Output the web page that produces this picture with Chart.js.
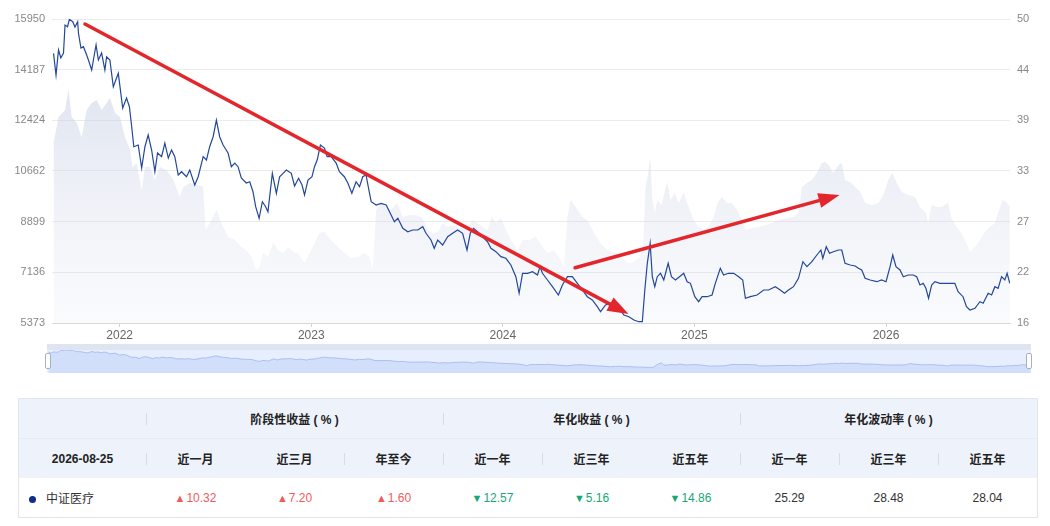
<!DOCTYPE html>
<html>
<head>
<meta charset="utf-8">
<script src="https://cdn.jsdelivr.net/npm/chart.js@4.4.1/dist/chart.umd.min.js"></script>
<style>
    body { margin: 0; background: #fff; width: 1050px; height: 526px; overflow: hidden;
           font-family: "Liberation Sans", Arial, "Noto Sans CJK SC", sans-serif; }
    #mainChart { position: absolute; left: 0; top: 0; }
    #zoomWrap { position: absolute; left: 47px; top: 344px; width: 984px; height: 29px;
                background: linear-gradient(#dfe5f0 0, #dfe5f0 6px, #e7eefd 6px, #e7eefd 100%); }
    #zoomChart { position: absolute; left: 0; top: 0; }
    .handle { position: absolute; top: 353px; width: 4px; height: 14px; background: #fff;
              border: 1px solid #a7b0c0; border-radius: 2px; }
    #tbl { position: absolute; left: 18px; top: 398px; width: 1020px; border: 1px solid #e1e5ec;
           box-sizing: border-box; }
    #tbl table { border-collapse: collapse; width: 100%; table-layout: fixed; }
    #tbl td { height: 39px; padding: 0; text-align: center; font-size: 12px; color: #222; position: relative; }
    #tbl tr.head td { background: #eef3fb; font-weight: bold; }
    #tbl tr.head.first td { border-bottom: 1px solid #e6ebf3; }
    #tbl td.sep::before { content: ''; position: absolute; left: 0; top: 50%; height: 12px; margin-top: -6px;
                          border-left: 1px solid #d6dce6; }
    #tbl td.name { text-align: left; padding-left: 10px; color: #333; }
    .dot { display: inline-block; width: 7px; height: 7px; border-radius: 50%; background: #0c2d8c;
           margin-right: 10px; vertical-align: 0; }
    #tbl td.up { color: #f05a5e; }
    #tbl td.down { color: #18a77a; }
    #tbl td.plain { color: #333; }
    .tri { font-size: 11px; margin-right: 1px; }
</style>
</head>
<body>
<canvas id="mainChart" width="1050" height="345"></canvas>
<div id="zoomWrap"><canvas id="zoomChart" width="984" height="29"></canvas></div>
<div class="handle" style="left:45px"></div>
<div class="handle" style="left:1026px"></div>
<div id="tbl"></div>

<script>
// index level (left axis)
const lineYears = [
    2021.655, 2021.668, 2021.681, 2021.693, 2021.707, 2021.715, 2021.728, 2021.738, 2021.755, 2021.767,
    2021.781, 2021.785, 2021.798, 2021.811, 2021.828, 2021.837, 2021.854, 2021.863, 2021.877, 2021.889,
    2021.906, 2021.923, 2021.932, 2021.949, 2021.967, 2021.993, 2022.016, 2022.036, 2022.051, 2022.063,
    2022.074, 2022.097, 2022.115, 2022.132, 2022.149, 2022.167, 2022.184, 2022.198, 2022.219, 2022.236,
    2022.254, 2022.271, 2022.288, 2022.306, 2022.323, 2022.349, 2022.366, 2022.392, 2022.410, 2022.436,
    2022.453, 2022.470, 2022.488, 2022.505, 2022.522, 2022.540, 2022.566, 2022.583, 2022.601, 2022.618,
    2022.635, 2022.661, 2022.679, 2022.696, 2022.710, 2022.728, 2022.745, 2022.762, 2022.774, 2022.797,
    2022.818, 2022.835, 2022.853, 2022.870, 2022.896, 2022.913, 2022.934, 2022.952, 2022.965, 2022.983,
    2023.004, 2023.017, 2023.031, 2023.048, 2023.069, 2023.083, 2023.104, 2023.130, 2023.147, 2023.173,
    2023.191, 2023.212, 2023.234, 2023.252, 2023.269, 2023.286, 2023.301, 2023.313, 2023.339, 2023.365,
    2023.391, 2023.417, 2023.434, 2023.452, 2023.478, 2023.504, 2023.530, 2023.556, 2023.582, 2023.599,
    2023.625, 2023.642, 2023.660, 2023.686, 2023.712, 2023.738, 2023.764, 2023.790, 2023.813, 2023.830,
    2023.847, 2023.868, 2023.894, 2023.920, 2023.938, 2023.964, 2023.990, 2024.016, 2024.042, 2024.068,
    2024.085, 2024.103, 2024.129, 2024.155, 2024.181, 2024.194, 2024.207, 2024.233, 2024.259, 2024.290,
    2024.311, 2024.337, 2024.363, 2024.389, 2024.415, 2024.441, 2024.467, 2024.493, 2024.510, 2024.536,
    2024.563, 2024.580, 2024.606, 2024.632, 2024.658, 2024.684, 2024.710, 2024.728, 2024.741, 2024.754,
    2024.769, 2024.780, 2024.793, 2024.806, 2024.823, 2024.840, 2024.863, 2024.880, 2024.901, 2024.922,
    2024.944, 2024.962, 2024.979, 2025.002, 2025.022, 2025.040, 2025.066, 2025.092, 2025.109, 2025.135,
    2025.152, 2025.178, 2025.205, 2025.231, 2025.252, 2025.266, 2025.292, 2025.327, 2025.361, 2025.387,
    2025.422, 2025.448, 2025.470, 2025.491, 2025.517, 2025.543, 2025.566, 2025.587, 2025.613, 2025.639,
    2025.660, 2025.670, 2025.688, 2025.705, 2025.725, 2025.752, 2025.769, 2025.786, 2025.813, 2025.839,
    2025.856, 2025.873, 2025.891, 2025.917, 2025.952, 2025.977, 2026.000, 2026.021, 2026.035, 2026.052,
    2026.073, 2026.090, 2026.116, 2026.142, 2026.160, 2026.177, 2026.194, 2026.208, 2026.222, 2026.238,
    2026.255, 2026.281, 2026.307, 2026.333, 2026.359, 2026.376, 2026.402, 2026.420, 2026.438, 2026.464,
    2026.490, 2026.507, 2026.533, 2026.551, 2026.568, 2026.585, 2026.603, 2026.620, 2026.632, 2026.646
];
const lineValues = [
    14756, 14001, 14871, 14592, 14766, 15740, 15681, 15939, 15855, 15671,
    15855, 15462, 14940, 14986, 14697, 14523, 14175, 14523, 15045, 14523,
    14766, 14175, 14638, 14523, 13594, 14060, 12853, 13201, 12898, 12202,
    11506, 11566, 10765, 11506, 11914, 11392, 10637, 11287, 11159, 11635,
    11113, 11392, 11159, 10522, 10637, 10463, 10696, 10174, 10463, 11159,
    11044, 11506, 11854, 12435, 11854, 11566, 11287, 10811, 10939, 10811,
    10418, 10244, 10289, 9941, 9419, 9015, 9593, 9419, 9245, 10581,
    9885, 10463, 10581, 10696, 10581, 10139, 10407, 10174, 9826, 10348,
    10463, 10811, 11044, 11566, 11461, 11159, 11159, 10939, 10637, 10463,
    10244, 9885, 10289, 10115, 10463, 10522, 10000, 9593, 9478, 9537,
    9478, 9130, 8897, 9015, 8668, 8549, 8608, 8608, 8723, 8494,
    8261, 7972, 8261, 8087, 8375, 8494, 8608, 8494, 7913, 8494,
    8668, 8549, 8375, 8201, 7972, 7854, 7680, 7624, 7391, 6984,
    6406, 7102, 7102, 7158, 7043, 7332, 7102, 6869, 6636, 6347,
    6695, 6984, 6984, 6754, 6521, 6288, 6173, 5940, 5766, 5999,
    6058, 5825, 5884, 5651, 5592, 5477, 5418, 5418, 6521, 7450,
    8146, 6984, 6636, 6984, 7102, 6869, 7450, 6984, 6869, 6984,
    7102, 6810, 6754, 6288, 6114, 6288, 6288, 6347, 6754, 7276,
    7043, 7102, 7102, 6984, 6869, 6232, 6288, 6347, 6521, 6521,
    6636, 6521, 6406, 6521, 6636, 6928, 7506, 7332, 7506, 7739,
    7913, 7624, 8027, 7798, 7854, 7913, 7913, 7450, 7391, 7356,
    7276, 7217, 6928, 6869, 6810, 6869, 6810, 7332, 7739, 7332,
    7217, 6984, 7043, 7043, 6984, 6695, 6754, 6580, 6232, 6695,
    6810, 6754, 6754, 6754, 6754, 6462, 6288, 5940, 5825, 5884,
    6114, 6058, 6406, 6347, 6636, 6580, 6984, 6869, 7102, 6754
];

// rolling volatility (right axis), shaded area
const volYears = [
    2021.655, 2021.681, 2021.715, 2021.733, 2021.750, 2021.776, 2021.802, 2021.828, 2021.854, 2021.880,
    2021.906, 2021.932, 2021.949, 2021.976, 2022.002, 2022.028, 2022.054, 2022.068, 2022.089, 2022.115,
    2022.132, 2022.158, 2022.184, 2022.210, 2022.245, 2022.280, 2022.314, 2022.332, 2022.366, 2022.410,
    2022.436, 2022.449, 2022.479, 2022.505, 2022.531, 2022.566, 2022.601, 2022.635, 2022.661, 2022.688,
    2022.714, 2022.731, 2022.748, 2022.774, 2022.801, 2022.827, 2022.853, 2022.879, 2022.913, 2022.931,
    2022.965, 2023.000, 2023.043, 2023.069, 2023.104, 2023.139, 2023.173, 2023.208, 2023.243, 2023.278,
    2023.304, 2023.321, 2023.339, 2023.365, 2023.391, 2023.417, 2023.448, 2023.478, 2023.512, 2023.547,
    2023.582, 2023.608, 2023.634, 2023.660, 2023.686, 2023.712, 2023.738, 2023.764, 2023.790, 2023.816,
    2023.842, 2023.868, 2023.894, 2023.920, 2023.943, 2023.964, 2023.990, 2024.016, 2024.042, 2024.077,
    2024.103, 2024.137, 2024.172, 2024.207, 2024.233, 2024.267, 2024.302, 2024.319, 2024.337, 2024.354,
    2024.380, 2024.415, 2024.441, 2024.476, 2024.510, 2024.545, 2024.589, 2024.623, 2024.650, 2024.676,
    2024.710, 2024.731, 2024.745, 2024.759, 2024.769, 2024.780, 2024.793, 2024.806, 2024.828, 2024.858,
    2024.875, 2024.897, 2024.918, 2024.944, 2024.970, 2024.996, 2025.022, 2025.048, 2025.074, 2025.100,
    2025.123, 2025.144, 2025.170, 2025.196, 2025.222, 2025.248, 2025.266, 2025.301, 2025.335, 2025.370,
    2025.405, 2025.439, 2025.483, 2025.517, 2025.543, 2025.561, 2025.587, 2025.613, 2025.639, 2025.665,
    2025.682, 2025.700, 2025.725, 2025.752, 2025.769, 2025.786, 2025.813, 2025.839, 2025.865, 2025.891,
    2025.925, 2025.960, 2025.986, 2026.012, 2026.033, 2026.056, 2026.082, 2026.116, 2026.151, 2026.177,
    2026.208, 2026.220, 2026.238, 2026.264, 2026.290, 2026.324, 2026.342, 2026.368, 2026.394, 2026.420,
    2026.438, 2026.464, 2026.490, 2026.516, 2026.542, 2026.568, 2026.585, 2026.608, 2026.629, 2026.646
];
const volValues = [
    36.13, 39.04, 39.82, 42.06, 39.04, 38.37, 36.80, 39.82, 40.60, 40.94,
    39.82, 40.60, 41.16, 39.49, 39.04, 36.80, 35.35, 33.45, 33.89, 30.87,
    33.45, 33.45, 31.99, 33.45, 33.11, 31.99, 30.09, 31.21, 31.66, 31.43,
    31.21, 26.40, 27.52, 28.64, 27.18, 25.62, 25.28, 24.50, 24.16, 23.38,
    21.93, 22.26, 23.83, 23.38, 24.95, 24.16, 23.83, 24.50, 23.83, 23.83,
    22.71, 24.16, 26.07, 26.18, 25.28, 24.50, 23.83, 23.27, 23.38, 23.83,
    23.38, 21.93, 28.64, 29.42, 28.97, 28.64, 29.42, 27.86, 28.08, 28.08,
    27.74, 26.40, 26.07, 26.18, 27.18, 26.74, 26.96, 26.74, 26.40, 26.74,
    27.52, 27.18, 26.74, 26.40, 27.86, 27.18, 27.74, 26.40, 25.28, 24.16,
    25.28, 25.28, 25.62, 24.50, 23.83, 24.16, 23.05, 22.26, 27.86, 29.76,
    28.97, 27.86, 27.52, 26.07, 24.95, 24.16, 23.83, 23.27, 22.71, 22.71,
    23.27, 24.16, 31.21, 32.78, 34.57, 30.09, 28.30, 29.76, 29.20, 31.77,
    29.76, 30.54, 29.42, 30.54, 28.97, 27.52, 26.74, 26.40, 26.74, 27.86,
    29.53, 30.09, 29.42, 29.42, 28.64, 27.52, 26.40, 26.62, 26.74, 26.96,
    27.18, 27.52, 27.74, 27.86, 28.30, 31.21, 31.66, 31.99, 32.78, 33.89,
    34.01, 33.67, 32.78, 33.67, 33.89, 31.99, 31.77, 31.21, 30.65, 29.42,
    29.20, 29.42, 30.32, 31.99, 32.78, 31.66, 30.65, 30.32, 30.09, 28.97,
    28.30, 27.18, 29.20, 28.97, 28.97, 29.42, 27.74, 26.74, 26.07, 24.95,
    23.94, 24.50, 25.28, 26.18, 26.74, 27.18, 28.30, 29.76, 29.53, 28.97
];

const xStart = 2021.647;
const xEnd = 2026.647;
const yearTicks = [2022, 2023, 2024, 2025, 2026];
const leftTicks = [5373, 7136, 8899, 10662, 12424, 14187, 15950];
const rightTickLabels = ['16', '22', '27', '33', '39', '44', '50'];
const rightMin = 16;
const rightMax = 50;

// red trend arrows drawn over the chart, [year, index level]
const arrowFrom = [[2021.819, 15775], [2024.377, 7297]];
const arrowTo = [[2024.656, 5686], [2025.757, 9826]];

// table
const tableDate = '2026-08-25';
const seriesName = '中证医疗';
const groupTitles = ['阶段性收益 ( % )', '年化收益 ( % )', '年化波动率 ( % )'];
const periodLabels = ['近一月', '近三月', '年至今', '近一年', '近三年', '近五年', '近一年', '近三年', '近五年'];
const periodValues = [10.32, 7.20, 1.60, -12.57, -5.16, -14.86, 25.29, 28.48, 28.04];
const signedCount = 6;

const tickFont = { family: 'Liberation Sans', size: 11 };

const arrowPlugin = {
    id: 'trendArrows',
    afterDatasetsDraw(chart) {
        const { ctx, scales } = chart;
        ctx.save();
        ctx.strokeStyle = '#e3262b';
        ctx.fillStyle = '#e3262b';
        ctx.lineWidth = 3.5;
        ctx.lineCap = 'round';
        arrowFrom.forEach((from, i) => {
            const x1 = scales.x.getPixelForValue(from[0]);
            const y1 = scales.y.getPixelForValue(from[1]);
            const x2 = scales.x.getPixelForValue(arrowTo[i][0]);
            const y2 = scales.y.getPixelForValue(arrowTo[i][1]);
            const len = Math.hypot(x2 - x1, y2 - y1);
            const ux = (x2 - x1) / len, uy = (y2 - y1) / len;
            const headLen = 21, headW = 15;
            ctx.beginPath();
            ctx.moveTo(x1, y1);
            ctx.lineTo(x2 - ux * headLen * 0.7, y2 - uy * headLen * 0.7);
            ctx.stroke();
            const bx = x2 - ux * headLen, by = y2 - uy * headLen;
            ctx.beginPath();
            ctx.moveTo(x2, y2);
            ctx.lineTo(bx - uy * headW / 2, by + ux * headW / 2);
            ctx.lineTo(bx + uy * headW / 2, by - ux * headW / 2);
            ctx.closePath();
            ctx.fill();
        });
        ctx.restore();
    }
};

function areaGradient(context) {
    const { ctx, chartArea } = context.chart;
    if (!chartArea) return 'rgba(190, 200, 222, 0.4)';
    const g = ctx.createLinearGradient(0, chartArea.top, 0, chartArea.bottom);
    g.addColorStop(0, 'rgba(185, 196, 220, 0.6)');
    g.addColorStop(1, 'rgba(220, 226, 240, 0.15)');
    return g;
}

new Chart(document.getElementById('mainChart'), {
    type: 'line',
    data: {
        datasets: [
            {
                label: seriesName,
                data: lineYears.map((x, i) => ({ x, y: lineValues[i] })),
                yAxisID: 'y',
                borderColor: '#23479a',
                borderWidth: 1.2,
                pointRadius: 0,
                tension: 0,
                fill: false
            },
            {
                label: '波动率',
                data: volYears.map((x, i) => ({ x, y: volValues[i] })),
                yAxisID: 'y2',
                borderWidth: 0,
                pointRadius: 0,
                tension: 0,
                fill: 'start',
                backgroundColor: areaGradient
            }
        ]
    },
    options: {
        responsive: false,
        animation: false,
        layout: { padding: { top: 19, left: 0, right: 0, bottom: 0 } },
        plugins: { legend: { display: false }, tooltip: { enabled: false } },
        scales: {
            x: {
                type: 'linear',
                min: xStart,
                max: xEnd,
                afterBuildTicks: s => { s.ticks = yearTicks.map(v => ({ value: v })); },
                afterFit: s => { s.height = 22; },
                grid: { drawOnChartArea: false, drawTicks: true, tickLength: 4, color: '#d4d4d4' },
                border: { color: '#d8d8d8' },
                ticks: {
                    color: '#666',
                    font: { family: 'Liberation Sans', size: 12 },
                    padding: 1,
                    maxRotation: 0,
                    callback: v => String(v)
                }
            },
            y: {
                position: 'left',
                min: leftTicks[0],
                max: leftTicks[leftTicks.length - 1],
                afterBuildTicks: s => { s.ticks = leftTicks.map(v => ({ value: v })); },
                afterFit: s => { s.width = 52; },
                grid: { color: '#ebebeb', drawTicks: false },
                border: { display: false },
                ticks: { color: '#888', font: tickFont, padding: 7, callback: v => String(v) }
            },
            y2: {
                position: 'right',
                min: rightMin,
                max: rightMax,
                afterBuildTicks: s => {
                    const step = (rightMax - rightMin) / (rightTickLabels.length - 1);
                    s.ticks = rightTickLabels.map((_, i) => ({ value: rightMin + i * step }));
                },
                afterFit: s => { s.width = 40; },
                grid: { drawOnChartArea: false, drawTicks: false },
                border: { display: false },
                ticks: {
                    color: '#888',
                    font: tickFont,
                    padding: 7,
                    callback: (v, i) => rightTickLabels[i]
                }
            }
        }
    },
    plugins: [arrowPlugin]
});

// data zoom strip under the chart
new Chart(document.getElementById('zoomChart'), {
    type: 'line',
    data: {
        datasets: [{
            data: lineYears.map((x, i) => ({ x, y: lineValues[i] })),
            borderColor: '#a8bfee',
            borderWidth: 1,
            pointRadius: 0,
            fill: 'start',
            backgroundColor: 'rgba(168, 194, 244, 0.35)'
        }]
    },
    options: {
        responsive: false,
        animation: false,
        layout: { padding: { top: 6, left: 0, right: 0, bottom: 0 } },
        plugins: { legend: { display: false }, tooltip: { enabled: false } },
        scales: {
            x: { type: 'linear', min: xStart, max: xEnd, display: false },
            y: { min: 2000, max: 15950, display: false }
        }
    }
});

function buildTable() {
    const sepFlags = [1, 0, 1, 1, 1, 0, 1, 1, 1];
    let html = '<table><colgroup><col style="width:127px">';
    periodLabels.forEach(() => { html += '<col>'; });
    html += '</colgroup>';

    html += '<tr class="head first"><td></td>';
    groupTitles.forEach(t => { html += `<td class="sep" colspan="3">${t}</td>`; });
    html += '</tr>';

    html += `<tr class="head"><td>${tableDate}</td>`;
    periodLabels.forEach((p, i) => { html += `<td class="${sepFlags[i] ? 'sep' : ''}">${p}</td>`; });
    html += '</tr>';

    html += `<tr><td class="name"><span class="dot"></span>${seriesName}</td>`;
    periodValues.forEach((v, i) => {
        if (i < signedCount) {
            const up = v >= 0;
            html += `<td class="${up ? 'up' : 'down'}"><span class="tri">${up ? '▲' : '▼'}</span>${Math.abs(v).toFixed(2)}</td>`;
        } else {
            html += `<td class="plain">${v.toFixed(2)}</td>`;
        }
    });
    html += '</tr></table>';
    document.getElementById('tbl').innerHTML = html;
}

buildTable();
</script>
</body>
</html>
